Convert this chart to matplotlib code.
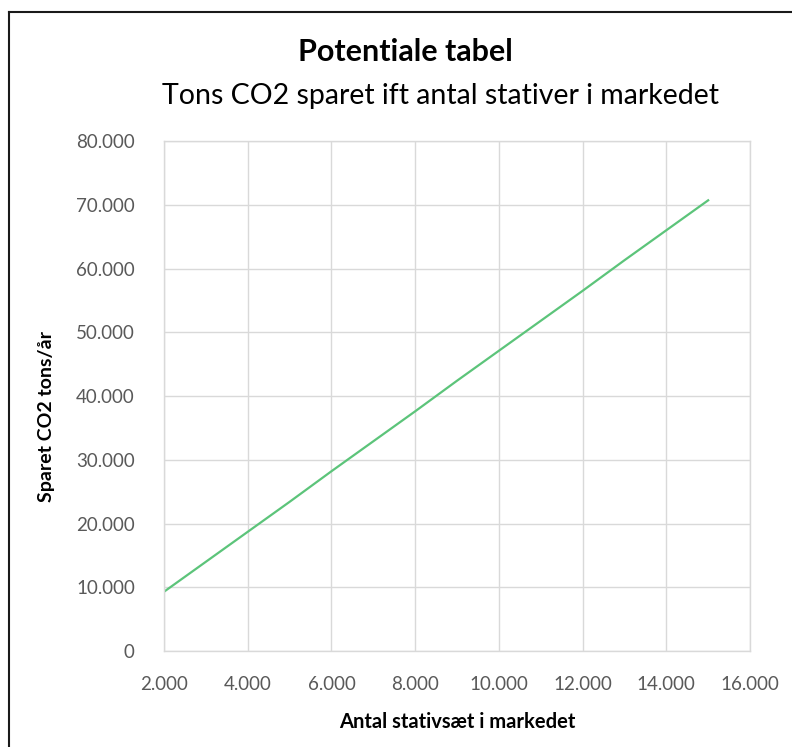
import matplotlib.pyplot as plt
from matplotlib.ticker import FuncFormatter, MultipleLocator
from matplotlib.lines import Line2D

# data
stativer = [2000, 3000, 4000, 5000, 6000, 7000, 8000, 9000, 10000,
            11000, 12000, 13000, 14000, 15000]
co2_sparet = [9300, 14000, 18700, 23400, 28200, 32900, 37600, 42400, 47100,
              51800, 56500, 61300, 66000, 70700]

title = 'Potentiale tabel'
subtitle = 'Tons CO2 sparet ift antal stativer i markedet'
xlabel = 'Antal stativsæt i markedet'
ylabel = 'Sparet CO2 tons/år'

plt.rcParams['font.family'] = ['Lato', 'DejaVu Sans']

grid_col = '#d9d9d9'
tick_col = '#595959'


def dot_fmt(v, pos):
    return f'{v:,.0f}'.replace(',', '.')


fig = plt.figure(figsize=(7.92, 7.47), dpi=100)
ax = fig.add_axes([0.2071, 0.1285, 0.7399, 0.6827])

ax.plot(stativer, co2_sparet, color='#5cc47a', linewidth=1.6)

ax.set_xlim(2000, 16000)
ax.set_ylim(0, 80000)
ax.xaxis.set_major_locator(MultipleLocator(2000))
ax.yaxis.set_major_locator(MultipleLocator(10000))
ax.xaxis.set_major_formatter(FuncFormatter(dot_fmt))
ax.yaxis.set_major_formatter(FuncFormatter(dot_fmt))

ax.grid(True, color=grid_col, linewidth=1.0)
ax.set_axisbelow(True)
for s in ax.spines.values():
    s.set_color(grid_col)
    s.set_linewidth(1.0)
ax.tick_params(length=0, labelsize=13.5, colors=tick_col)
ax.tick_params(axis='x', pad=18)
ax.tick_params(axis='y', pad=21)

ax.set_xlabel(xlabel, fontsize=14.5, fontweight='bold', labelpad=14)
ax.set_ylabel(ylabel, fontsize=14, fontweight='bold')
ax.yaxis.set_label_coords(-0.186, 0.46)

fig.text(0.512, 0.930, title, ha='center', va='center', fontsize=22, fontweight='bold')
fig.text(0.556, 0.872, subtitle, ha='center', va='center', fontsize=20.5)

# ramme rundt om figuren (kun top og venstre er synlige)
W, H = 792, 747
fig.add_artist(Line2D([9 / W, 1], [1 - 12 / H, 1 - 12 / H], color='#1a1a1a', linewidth=1.5))
fig.add_artist(Line2D([9 / W, 9 / W], [0, 1 - 12 / H], color='#1a1a1a', linewidth=1.5))

fig.savefig('out.png', dpi=100, facecolor='white')
